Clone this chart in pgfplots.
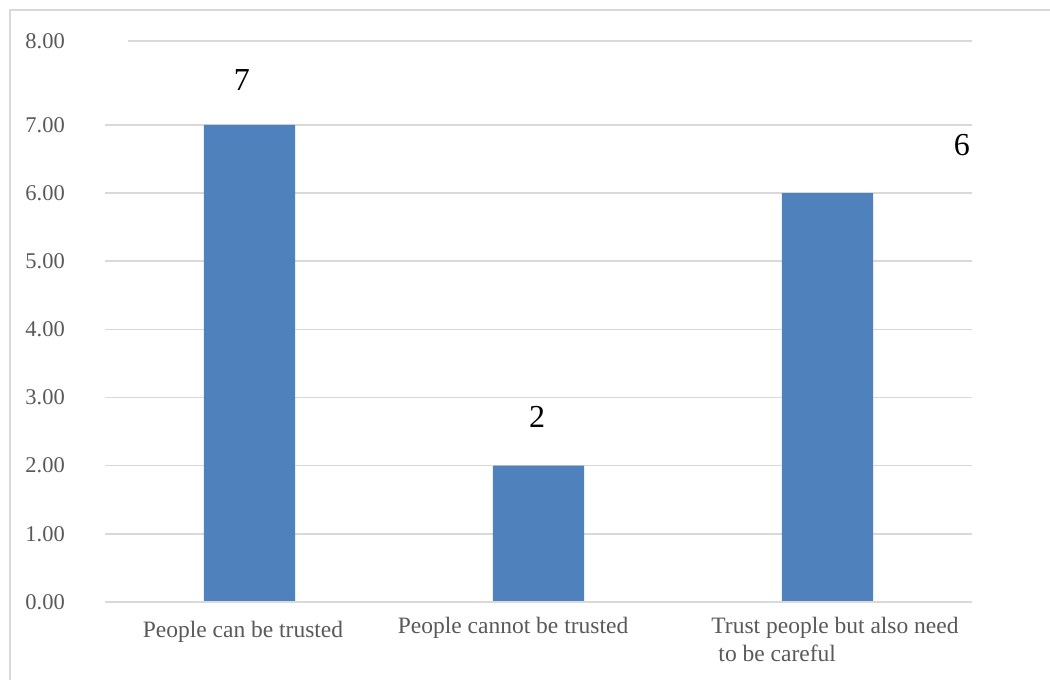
\documentclass[border=0pt]{standalone}
\usepackage{pgfplots}
\pgfplotsset{compat=1.18}
\usepackage{fontspec}
\setmainfont{Liberation Serif}
\definecolor{barblue}{HTML}{4F81BD}
\definecolor{gridgray}{HTML}{D9D9D9}
\definecolor{labgray}{HTML}{595959}
\begin{document}
\begin{tikzpicture}[x=1pt,y=1pt]
\begin{axis}[
  at={(105pt,78pt)}, anchor=south west,
  scale only axis, width=867pt, height=561pt,
  xmin=-0.5, xmax=2.5, ymin=0, ymax=8.23,
  ybar, bar width=0.315,
  axis line style={draw=none},
  xtick={0.912,2.026},
  xticklabels={People cannot be trusted, {Trust people but also need\\\hspace{0.3em}to be careful}},
  extra x ticks={-0.0225}, extra x tick labels={People can be trusted},
  extra x tick style={xticklabel style={yshift=-4pt}},
  xticklabel style={font=\fontsize{23.5}{28}\selectfont, text=labgray, align=left, anchor=north, inner sep=0pt, yshift=-15pt},
  ytick={0,1,...,7},
  extra y ticks={8.23}, extra y tick labels={8.00},
  extra y tick style={grid=none},
  yticklabel style={font=\fontsize{22.5}{24}\selectfont, text=labgray, anchor=east, inner sep=0pt, xshift=-40pt},
  /pgf/number format/.cd, fixed, fixed zerofill, precision=2, assume math mode=true,
  /pgfplots/.cd,
  ymajorgrids, grid style={gridgray, line width=1.5pt},
  major tick length=0pt,
  clip=false,
]
\addplot[fill=barblue, draw=none] coordinates {(0,7) (1,2) (2,6)};
\draw[gridgray, line width=1.5pt] (axis cs:-0.5,0) -- (axis cs:2.5,0);
\draw[gridgray, line width=1.5pt] (axis cs:-0.42,8.23) -- (axis cs:2.5,8.23);
\node[font=\fontsize{32}{34}\selectfont] at (axis cs:-0.026,7.66) {7};
\node[font=\fontsize{32}{34}\selectfont] at (axis cs:0.995,2.72) {2};
\node[font=\fontsize{32}{34}\selectfont] at (axis cs:2.465,6.70) {6};
\end{axis}
\draw[gridgray, line width=1.5pt] (10,-10) -- (10,670) -- (1060,670);
\pgfresetboundingbox
\path[use as bounding box] (0,0) rectangle (1050,680);
\end{tikzpicture}
\end{document}
